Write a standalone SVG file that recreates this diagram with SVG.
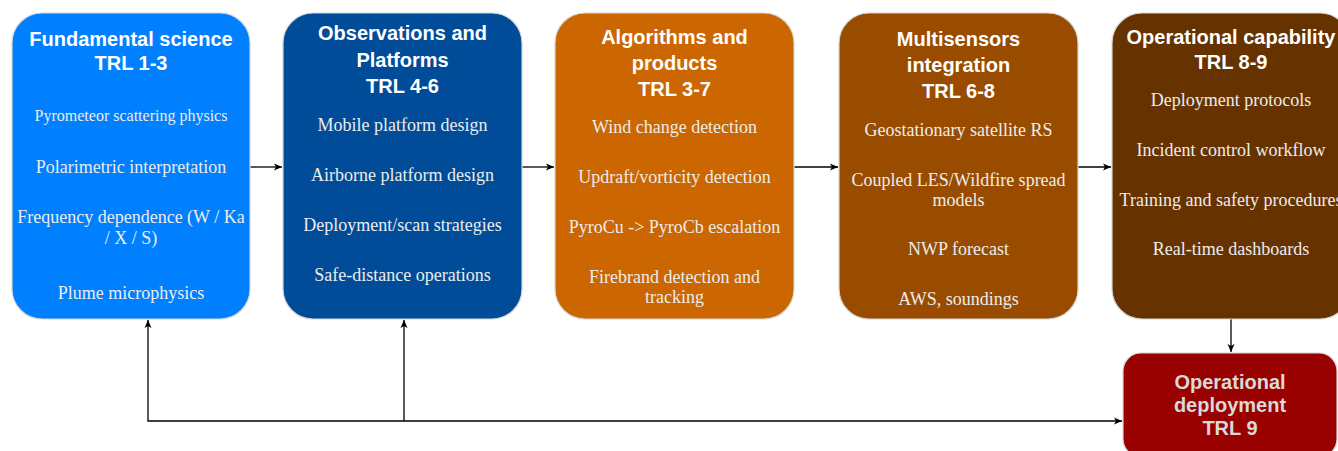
<svg xmlns="http://www.w3.org/2000/svg" width="1338" height="451" viewBox="0 0 1338 451">
<style>
.box{stroke:#d6d6d6;stroke-width:1.2}
.t{font-family:"Liberation Sans",Arial,sans-serif;font-weight:bold;font-size:20px;fill:#ffffff;text-anchor:middle}
.i{font-family:"Liberation Serif","Times New Roman",serif;font-size:18px;fill:#ececec;text-anchor:middle}
.s{font-size:16px}
.c{fill:none;stroke:#000;stroke-width:1.3}
</style>
<defs>
<marker id="ah" markerWidth="10" markerHeight="10" refX="9" refY="5" orient="auto" markerUnits="userSpaceOnUse">
<path d="M1,1.5 L9,5 L1,8.5 L3,5 Z" fill="#000"/>
</marker>
<marker id="ahs" markerWidth="10" markerHeight="10" refX="1" refY="5" orient="auto" markerUnits="userSpaceOnUse">
<path d="M9,1.5 L1,5 L9,8.5 L7,5 Z" fill="#000"/>
</marker>
</defs>
<rect width="1338" height="451" fill="#fff"/>
<g id="connectors">
<path class="c" d="M250,167 L282,167" marker-end="url(#ah)"/>
<path class="c" d="M522,167 L554,167" marker-end="url(#ah)"/>
<path class="c" d="M794,167 L838,167" marker-end="url(#ah)"/>
<path class="c" d="M1078,167 L1111,167" marker-end="url(#ah)"/>
<path class="c" d="M1231,319 L1231,352" marker-end="url(#ah)"/>
<path class="c" d="M148,320 L148,421 L1122,421" marker-start="url(#ahs)" marker-end="url(#ah)"/>
<path class="c" d="M404,421 L404,320" marker-end="url(#ah)"/>
</g>
<g id="node1">
<rect class="box" x="12" y="13" width="238" height="306" rx="30" fill="#007FFF"/>
<text class="t" x="131" y="46">Fundamental science</text>
<text class="t" x="131" y="70">TRL 1-3</text>
<text class="i s" x="131" y="121">Pyrometeor scattering physics</text>
<text class="i" x="131" y="173">Polarimetric interpretation</text>
<text class="i" x="131" y="223">Frequency dependence (W / Ka</text>
<text class="i" x="131" y="244">/ X / S)</text>
<text class="i" x="131" y="299">Plume microphysics</text>
</g>
<g id="node2">
<rect class="box" x="283" y="13" width="239" height="306" rx="30" fill="#004C99"/>
<text class="t" x="402.5" y="40">Observations and</text>
<text class="t" x="402.5" y="67">Platforms</text>
<text class="t" x="402.5" y="93">TRL 4-6</text>
<text class="i" x="402.5" y="131">Mobile platform design</text>
<text class="i" x="402.5" y="181">Airborne platform design</text>
<text class="i" x="402.5" y="231">Deployment/scan strategies</text>
<text class="i" x="402.5" y="281">Safe-distance operations</text>
</g>
<g id="node3">
<rect class="box" x="555" y="13" width="239" height="306" rx="30" fill="#CC6600"/>
<text class="t" x="674.5" y="44">Algorithms and</text>
<text class="t" x="674.5" y="70">products</text>
<text class="t" x="674.5" y="96">TRL 3-7</text>
<text class="i" x="674.5" y="133">Wind change detection</text>
<text class="i" x="674.5" y="183">Updraft/vorticity detection</text>
<text class="i" x="674.5" y="233">PyroCu -&gt; PyroCb escalation</text>
<text class="i" x="674.5" y="283">Firebrand detection and</text>
<text class="i" x="674.5" y="303">tracking</text>
</g>
<g id="node4">
<rect class="box" x="839" y="13" width="239" height="306" rx="30" fill="#994C00"/>
<text class="t" x="958.5" y="46">Multisensors</text>
<text class="t" x="958.5" y="72">integration</text>
<text class="t" x="958.5" y="98">TRL 6-8</text>
<text class="i" x="958.5" y="136">Geostationary satellite RS</text>
<text class="i" x="958.5" y="186">Coupled LES/Wildfire spread</text>
<text class="i" x="958.5" y="206">models</text>
<text class="i" x="958.5" y="255">NWP forecast</text>
<text class="i" x="958.5" y="305">AWS, soundings</text>
</g>
<g id="node5">
<rect class="box" x="1112" y="13" width="238" height="306" rx="30" fill="#663300"/>
<text class="t" x="1231" y="44">Operational capability</text>
<text class="t" x="1231" y="69">TRL 8-9</text>
<text class="i" x="1231" y="106">Deployment protocols</text>
<text class="i" x="1231" y="156">Incident control workflow</text>
<text class="i" x="1231" y="206">Training and safety procedures</text>
<text class="i" x="1231" y="255">Real-time dashboards</text>
</g>
<g id="node6">
<rect class="box" x="1123" y="353" width="214" height="104" rx="18" fill="#990000"/>
<text class="t" x="1230" y="389" style="fill:#d9d9d9">Operational</text>
<text class="t" x="1230" y="412" style="fill:#d9d9d9">deployment</text>
<text class="t" x="1230" y="435" style="fill:#d9d9d9">TRL 9</text>
</g>
</svg>
